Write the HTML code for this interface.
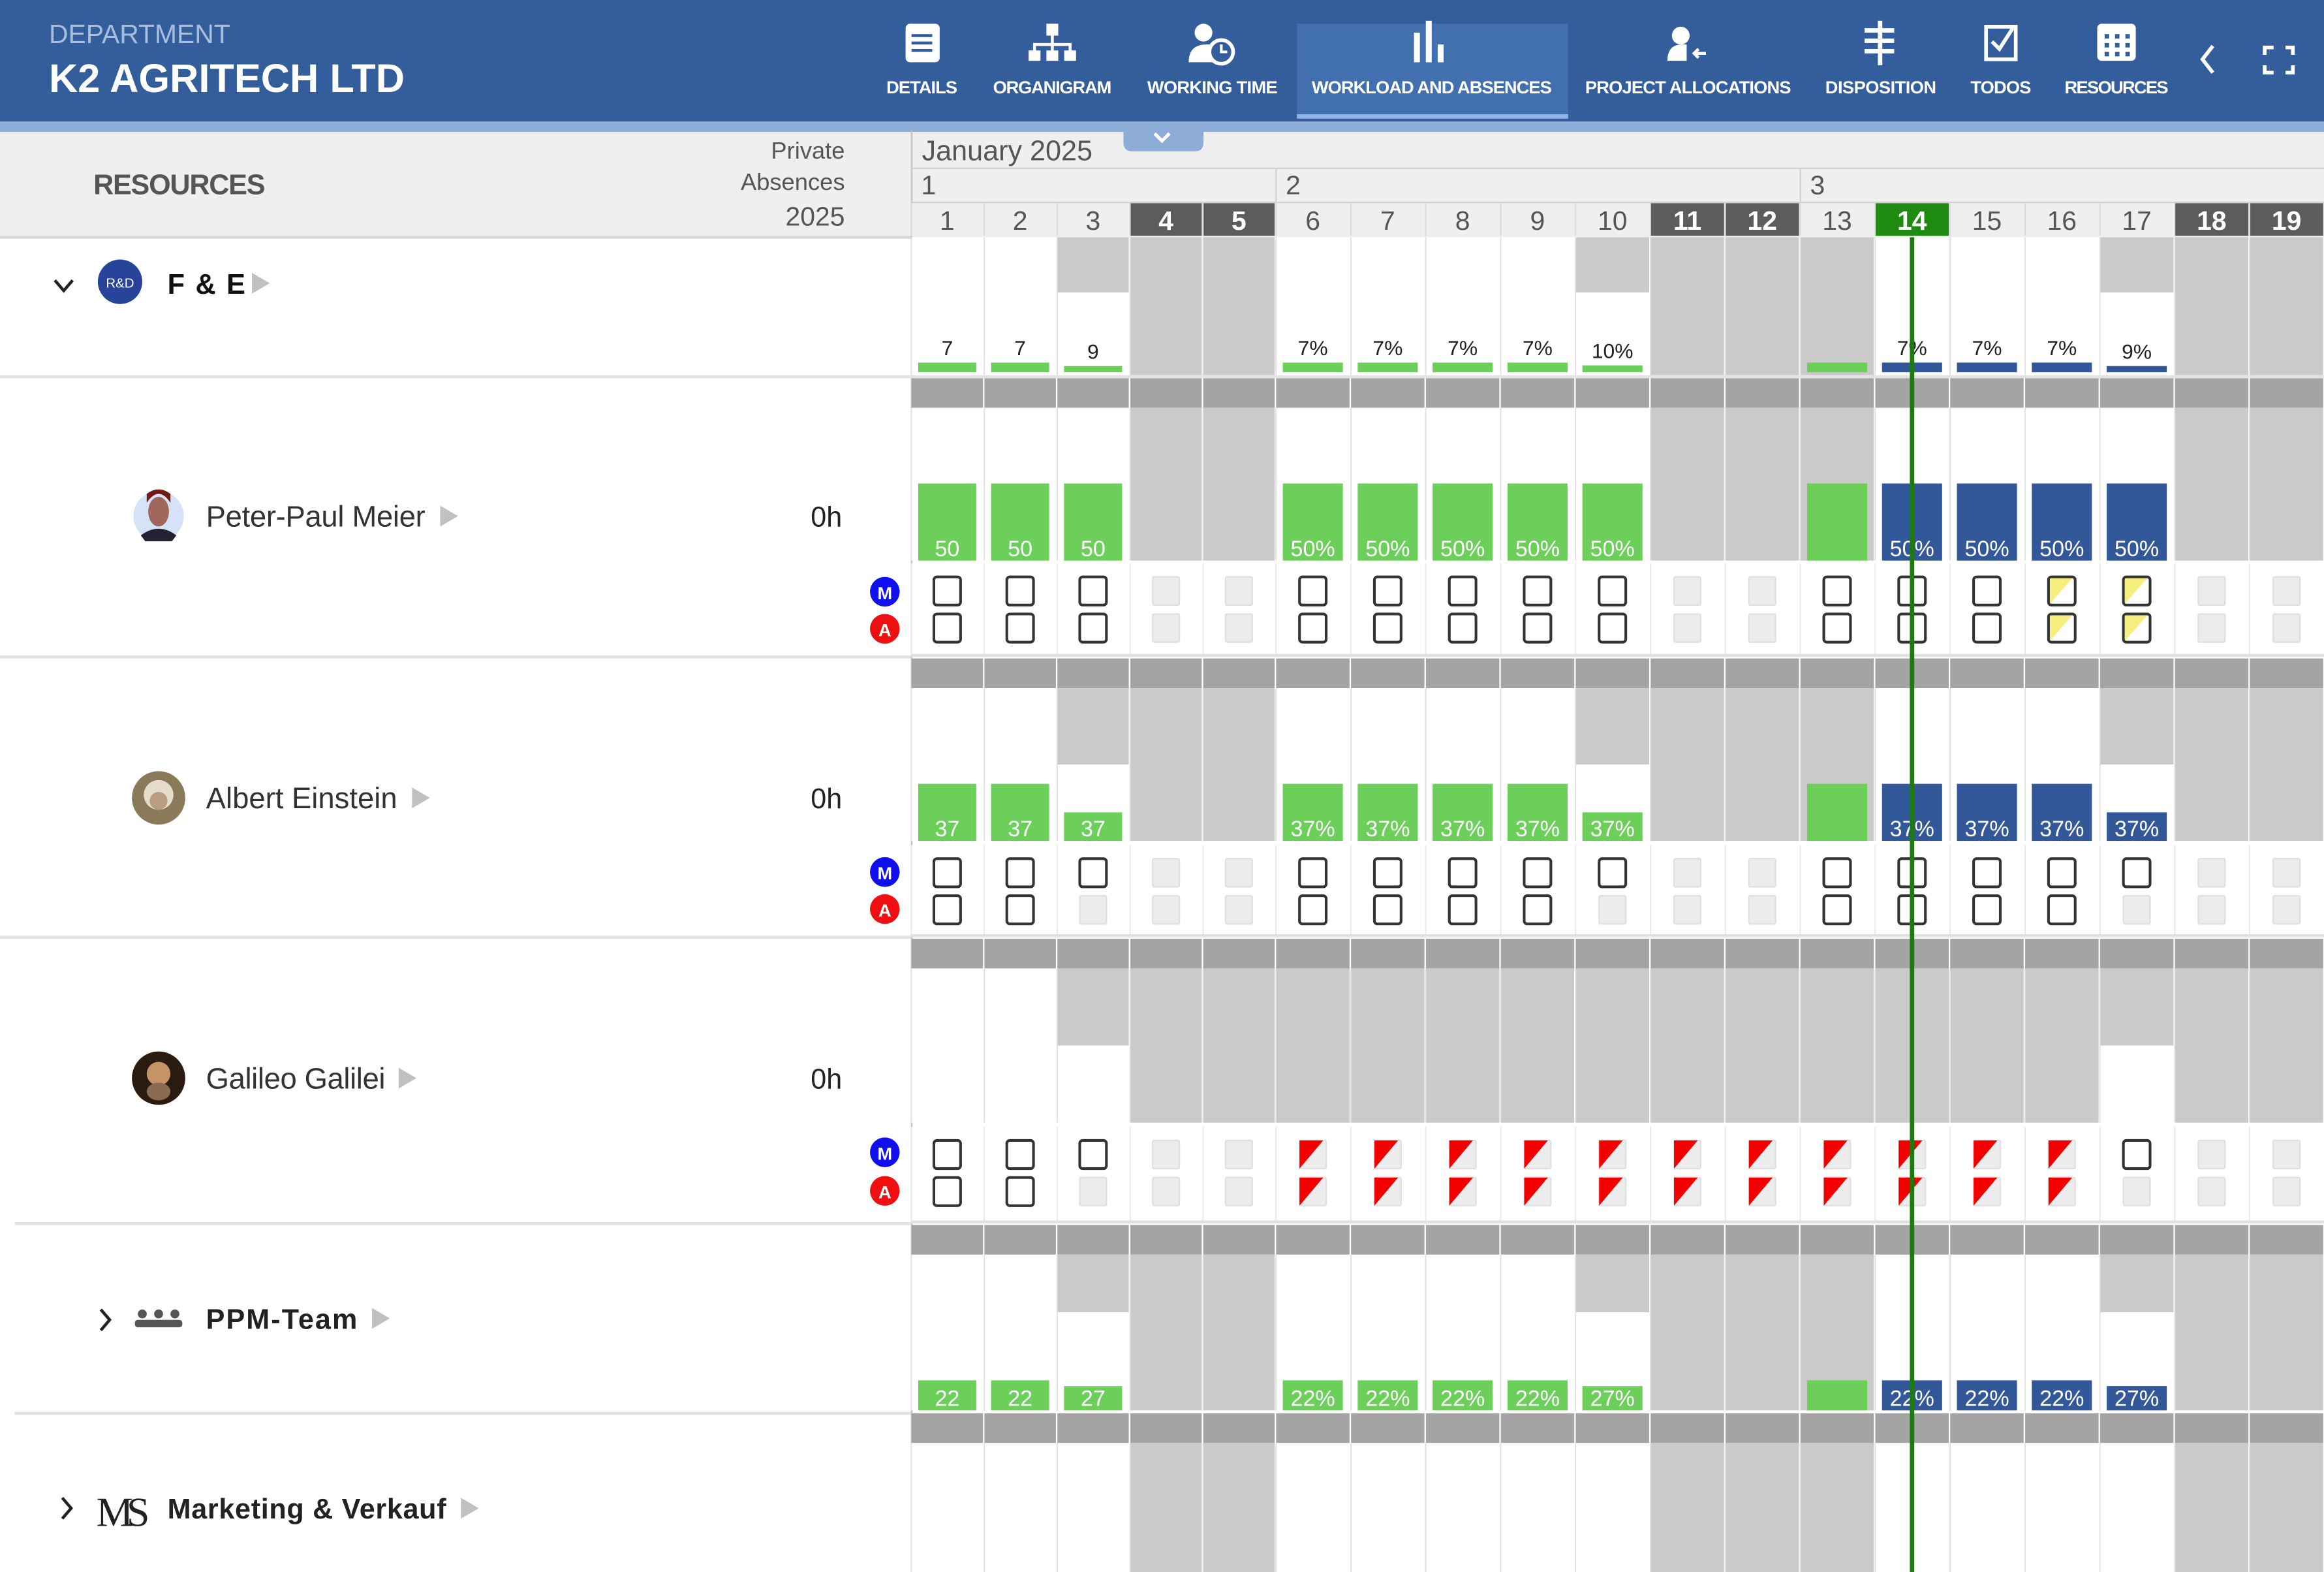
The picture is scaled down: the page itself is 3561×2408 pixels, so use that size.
<!DOCTYPE html>
<html><head><meta charset="utf-8">
<style>
html,body{margin:0;padding:0;background:#fff;overflow:hidden;}
svg{display:block;font-family:"Liberation Sans",sans-serif;}
</style></head>
<body>
<svg id="page" width="3561" height="2408" viewBox="0 0 1568 1060" preserveAspectRatio="none" xmlns="http://www.w3.org/2000/svg">
  <g>
    <rect x="0" y="0" width="1568" height="82" fill="#335d9b"/>
    <rect x="0" y="82" width="1568" height="7" fill="#8eacd8"/>
    <text x="33" y="29" font-size="18" fill="#a9bedd">DEPARTMENT</text>
    <text x="33" y="62" font-size="27" font-weight="bold" fill="#fff" textLength="240">K2 AGRITECH LTD</text>
    <rect x="875" y="16" width="183" height="64" fill="#426fae"/>
    <rect x="875" y="77" width="183" height="3" fill="#8fb3ea"/>
    <g fill="#fff" font-size="12" font-weight="bold" text-anchor="middle">
      <g><rect x="611" y="16" width="23" height="26" rx="3"/><rect x="615" y="23" width="14" height="2" fill="#335d9b"/><rect x="615" y="28" width="14" height="2" fill="#335d9b"/><rect x="615" y="33" width="14" height="2" fill="#335d9b"/><text x="622" y="63" textLength="48">DETAILS</text></g>
      <g><rect x="706" y="16" width="8" height="8"/><rect x="709" y="24" width="2" height="6"/><rect x="697" y="29" width="26" height="2"/><rect x="697" y="31" width="2" height="4"/><rect x="709" y="31" width="2" height="4"/><rect x="721" y="31" width="2" height="4"/><rect x="694" y="34" width="8" height="7"/><rect x="706" y="34" width="8" height="7"/><rect x="718" y="34" width="8" height="7"/><text x="710" y="63" textLength="80">ORGANIGRAM</text></g>
      <g><circle cx="812" cy="22" r="6"/><path d="M802 42 q0-12 12-12 h4 v12z"/><circle cx="824" cy="35" r="8" fill="#335d9b" stroke="#fff" stroke-width="2.5"/><path d="M824 30 v5 h4" stroke="#fff" stroke-width="1.8" fill="none"/><text x="818" y="63" textLength="88">WORKING TIME</text></g>
      <g><rect x="954" y="22" width="4" height="20"/><rect x="962" y="14" width="4" height="28"/><rect x="970" y="30" width="4" height="12"/><text x="966" y="63" textLength="162">WORKLOAD AND ABSENCES</text></g>
      <g><circle cx="1134" cy="24" r="6"/><path d="M1125 41 q0-11 10-11 h3 v11z"/><path d="M1143 36 h8 M1146 33 l-3 3 3 3" stroke="#fff" stroke-width="2" fill="none"/><text x="1139" y="63" textLength="139">PROJECT ALLOCATIONS</text></g>
      <g><rect x="1267" y="14" width="3" height="30"/><rect x="1258" y="19" width="20" height="3"/><rect x="1258" y="26" width="20" height="3"/><rect x="1258" y="33" width="20" height="3"/><text x="1269" y="63" textLength="75">DISPOSITION</text></g>
      <g><rect x="1340" y="18" width="20" height="22" fill="none" stroke="#fff" stroke-width="2.5"/><path d="M1344 28 l5 5 9-14" stroke="#fff" stroke-width="2.5" fill="none"/><text x="1350" y="63" textLength="41">TODOS</text></g>
      <g><rect x="1415" y="16" width="26" height="25" rx="3"/><g fill="#335d9b"><rect x="1420" y="23" width="3" height="3"/><rect x="1427" y="23" width="3" height="3"/><rect x="1434" y="23" width="3" height="3"/><rect x="1420" y="29" width="3" height="3"/><rect x="1427" y="29" width="3" height="3"/><rect x="1434" y="29" width="3" height="3"/><rect x="1420" y="35" width="3" height="3"/><rect x="1427" y="35" width="3" height="3"/><rect x="1434" y="35" width="3" height="3"/></g><text x="1428" y="63" textLength="70">RESOURCES</text></g>
    </g>
    <path d="M1493 31 l-7 9 7 9" stroke="#fff" stroke-width="2.5" fill="none"/>
    <path d="M1528 37 v-5 h6 M1542 32 h5 v5 M1547 44 v5 h-5 M1534 49 h-6 v-5" stroke="#fff" stroke-width="2.5" fill="none"/>
  </g>
  <g>
    <rect x="0" y="89" width="615" height="71" fill="#efefef"/>
    <rect x="0" y="159" width="615" height="2" fill="#d6d6d6"/>
    <text x="63" y="131" font-size="19" font-weight="bold" fill="#555" textLength="116">RESOURCES</text>
    <g font-size="16" fill="#555" text-anchor="end">
      <text x="570" y="107">Private</text><text x="570" y="128">Absences</text><text x="570" y="152" font-size="18">2025</text>
    </g>
  </g>
  <g>
    <g>
      <path d="M37 189 l6 7 6-7" stroke="#222" stroke-width="2" fill="none"/>
      <circle cx="81" cy="190" r="15" fill="#27439a"/><text x="81" y="194" font-size="9" fill="#fff" text-anchor="middle">R&amp;D</text>
      <text x="113" y="198" font-size="19" fill="#111" font-weight="bold" letter-spacing="1">F &amp; E</text>
      <path d="M170 184 l12 7 -12 7z" fill="#c0c0c0"/>
    </g>
    <rect x="0" y="253" width="615" height="2" fill="#e2e2e2"/>
    <g>
      <circle cx="107" cy="348" r="17" fill="#d6e2f8"/><ellipse cx="107" cy="345" rx="7" ry="10" fill="#a0685c"/><path d="M99 339 q8-12 16 0 v-6 q-8-6-16 0z" fill="#6e1c14"/><path d="M95 361 q12-9 24 0 l-3 4 h-18z" fill="#223"/>
      <text x="139" y="355" font-size="20" fill="#333" textLength="148">Peter-Paul Meier</text>
      <path d="M297 341 l12 7 -12 7z" fill="#c0c0c0"/>
      <text x="547" y="355" font-size="19" fill="#222">0h</text>
    </g>
    <rect x="0" y="442" width="615" height="2" fill="#e2e2e2"/>
    <g>
      <circle cx="107" cy="538" r="18" fill="#8a7a5a"/><circle cx="107" cy="536" r="10" fill="#e6dccb"/><circle cx="107" cy="540" r="6" fill="#b99c82"/>
      <text x="139" y="545" font-size="20" fill="#333" textLength="129">Albert Einstein</text>
      <path d="M278 531 l12 7 -12 7z" fill="#c0c0c0"/>
      <text x="547" y="545" font-size="19" fill="#222">0h</text>
    </g>
    <rect x="0" y="631" width="615" height="2" fill="#e2e2e2"/>
    <g>
      <circle cx="107" cy="727" r="18" fill="#2a1a10"/><circle cx="107" cy="724" r="8" fill="#c49366"/><ellipse cx="107" cy="736" rx="8" ry="6" fill="#8a6a50"/>
      <text x="139" y="734" font-size="20" fill="#333" textLength="121">Galileo Galilei</text>
      <path d="M269 720 l12 7 -12 7z" fill="#c0c0c0"/>
      <text x="547" y="734" font-size="19" fill="#222">0h</text>
    </g>
    <rect x="10" y="824" width="605" height="2" fill="#e2e2e2"/>
    <g>
      <path d="M68 883 l6 7 -6 7" stroke="#222" stroke-width="2" fill="none"/>
      <g fill="#555"><circle cx="96" cy="886" r="3"/><circle cx="107" cy="886" r="3"/><circle cx="118" cy="886" r="3"/><rect x="91" y="890" width="32" height="5" rx="2"/></g>
      <text x="139" y="896" font-size="19" font-weight="bold" fill="#222" textLength="102">PPM-Team</text>
      <path d="M251 882 l12 7 -12 7z" fill="#c0c0c0"/>
    </g>
    <rect x="10" y="952" width="605" height="2" fill="#e2e2e2"/>
    <g>
      <path d="M42 1010 l6 7 -6 7" stroke="#222" stroke-width="2" fill="none"/>
      <text x="65" y="1029" font-size="28" font-family="Liberation Serif, serif" fill="#222" textLength="36">MS</text>
      <text x="113" y="1024" font-size="19" font-weight="bold" fill="#222" textLength="188">Marketing &amp; Verkauf</text>
      <path d="M311 1010 l12 7 -12 7z" fill="#c0c0c0"/>
    </g>
    <g font-size="12" font-weight="bold" fill="#fff" text-anchor="middle">
      <circle cx="597" cy="399" r="10" fill="#1010ee"/><text x="597" y="404">M</text>
      <circle cx="597" cy="424" r="10" fill="#ee1010"/><text x="597" y="429">A</text>
      <circle cx="597" cy="588" r="10" fill="#1010ee"/><text x="597" y="593">M</text>
      <circle cx="597" cy="613" r="10" fill="#ee1010"/><text x="597" y="618">A</text>
      <circle cx="597" cy="777" r="10" fill="#1010ee"/><text x="597" y="782">M</text>
      <circle cx="597" cy="803" r="10" fill="#ee1010"/><text x="597" y="808">A</text>
    </g>
  </g>
  <g id="chart"></g>
</svg>
<script>
// ---- data ----
const days = [1,2,3,4,5,6,7,8,9,10,11,12,13,14,15,16,17,18,19];
const weekendDays = [4,5,11,12,18,19];
const holidayDays = [13];
const todayDay = 14;
const weekLabels = ['1','2','3'];
const weekStartDays = [1,6,13];
const monthLabel = 'January 2025';
const feValues = [7,7,9,null,null,7,7,7,7,10,null,null,7,7,7,7,9,null,null];
const peterValues = [50,50,50,null,null,50,50,50,50,50,null,null,50,50,50,50,50,null,null];
const albertValues = [37,37,37,null,null,37,37,37,37,37,null,null,37,37,37,37,37,null,null];
const galileoValues = [null,null,null,null,null,null,null,null,null,null,null,null,null,null,null,null,null,null,null];
const ppmValues = [22,22,27,null,null,22,22,22,22,27,null,null,22,22,22,22,27,null,null];
const feHalfDays = [3,10,17];
const peterHalfDays = [];
const albertHalfDays = [3,10,17];
const galileoHalfDays = [3,17];
const ppmHalfDays = [3,10,17];
const marketingHalfDays = [];
const galileoAbsentDays = [6,7,8,9,10,11,12,13,14,15,16];
const peterM = 'cccddcccccddcccyydd';
const peterA = 'cccddcccccddcccyydd';
const albertM = 'cccddcccccddcccccdd';
const albertA = 'ccdddccccdddccccddd';
const galileoM = 'cccddrrrrrrrrrrrcdd';
const galileoA = 'ccdddrrrrrrrrrrrddd';

// ---- layout helpers ----
const NS = 'http://www.w3.org/2000/svg';
const chart = document.getElementById('chart');
const X0 = 614.5, X1 = 1568, X6 = 860.5;
const CW1 = (X6-X0)/5, CW2 = (X1-X6)/14;
function colX(d){ return d<=6 ? X0+(d-1)*CW1 : X6+(d-6)*CW2; }
function colW(d){ return d<6 ? CW1 : CW2; }
function mk(tag, attrs, parent){ const e=document.createElementNS(NS,tag); for(const k in attrs) e.setAttribute(k,attrs[k]); (parent||chart).appendChild(e); return e; }
function barH(v, scale, halfF){ return v/100*scale*halfF; }

let e;
e = mk('rect',{x:X0,y:89,width:X1-X0,height:71,fill:'#efefef'});


e = mk('text',{x:622,y:108,'font-size':19,fill:'#555'}); e.textContent = monthLabel;


e = mk('path',{d:'M758 86 h54 v10 q0 6 -6 6 h-42 q-6 0 -6 -6z',fill:'#8eacd8'});


mk('path',{d:'M779 90 l5 5 5-5',stroke:'#fff','stroke-width':2.2,fill:'none'});
mk('rect',{x:X0,y:113,width:X1-X0,height:1,fill:'#d0d0d0'});
mk('rect',{x:X0,y:88,width:1.2,height:972,fill:'#c8c8c8'});
weekLabels.forEach((w,i)=>{
  const x = colX(weekStartDays[i]);
  e = mk('text',{x:x+7,y:131,'font-size':18,fill:'#555'}); e.textContent = w;
  
  
  if(i>0){ mk('rect',{x:x,y:113,width:1,height:23,fill:'#d0d0d0'}); }
});

const rows = [
  {key:'fe', top:160, bottom:253, barBottom:251, scale:93, values:feValues, half:feHalfDays, halfFrac:0.4, halfBar:0.5, thin:true},
  {key:'peter', band:255, top:275, bottom:378, barBottom:378, scale:104, values:peterValues, half:peterHalfDays, halfFrac:0.5, halfBar:0.5, checks:[peterM,peterA], chkTop:380, chkBottom:441},
  {key:'albert', band:444, top:464, bottom:567, barBottom:567, scale:104, values:albertValues, half:albertHalfDays, halfFrac:0.5, halfBar:0.5, checks:[albertM,albertA], chkTop:570, chkBottom:630},
  {key:'galileo', band:633, top:653, bottom:757, barBottom:757, scale:104, values:galileoValues, half:galileoHalfDays, halfFrac:0.5, halfBar:0.5, absent:galileoAbsentDays, checks:[galileoM,galileoA], chkTop:760, chkBottom:823},
  {key:'ppm', band:826, top:846, bottom:951, barBottom:951, scale:92, values:ppmValues, half:ppmHalfDays, halfFrac:0.37, halfBar:0.66},
  {key:'marketing', band:953, top:973, bottom:1060, barBottom:1060, scale:90, values:days.map(()=>null), half:marketingHalfDays, halfFrac:0.4, halfBar:0.5}
];

days.forEach((d,i)=>{
  const x = colX(d), w = colW(d);
  const isWe = weekendDays.includes(d), isHol = holidayDays.includes(d), isToday = d===todayDay;
  e = mk('rect',{x:x+0.5,y:137,width:w-1,height:22,fill:isToday?'#1f8a10':(isWe?'#5c5c5c':'#efefef')});
  
  
  mk('rect',{x:x,y:136,width:w,height:1,fill:'#d0d0d0'});
  mk('rect',{x:x,y:137,width:0.8,height:22,fill:'#d8d8d8'});
  e = mk('text',{x:x+w/2,y:155,'font-size':18,'text-anchor':'middle',fill:(isWe||isToday)?'#fff':'#555','font-weight':(isWe||isToday)?'bold':'normal'}); e.textContent = String(d);
  
  

  rows.forEach(r=>{
    if(r.band!==undefined){
      e = mk('rect',{x:x+0.5,y:r.band,width:w-1,height:20,fill:'#a4a4a4'});
      
      
    }
    const absent = r.absent && r.absent.includes(d);
    const half = r.half.includes(d);
    const full = isWe || isHol || absent;
    e = mk('rect',{x:x+0.5,y:r.top,width:w-1,height:r.bottom-r.top,fill:full?'#cacaca':'#fff'});
    
    
    if(!full && half){
      e = mk('rect',{x:x+0.5,y:r.top,width:w-1,height:(r.bottom-r.top)*r.halfFrac,fill:'#cacaca'});
      
      
    }
    mk('rect',{x:x,y:r.top,width:0.8,height:r.bottom-r.top,fill:'#e0e0e0'});
    const v = r.values[i];
    if(v!==null && v!==undefined){
      const h = Math.max(barH(v,r.scale,(half && !full)?r.halfBar:1), r.thin?3:0);
      const col = d>=todayDay ? '#33589a' : '#6ccf5a';
      e = mk('rect',{x:x+5,y:r.barBottom-h,width:w-10,height:h,fill:col});
      
      
      if(!isHol){
        const lbl = d<6 ? String(v) : v+'%';
        if(r.thin){
          e = mk('text',{x:x+w/2,y:r.barBottom-h-5,'font-size':14,'text-anchor':'middle',fill:'#222'}); e.textContent = lbl;
        } else {
          e = mk('text',{x:x+w/2,y:r.barBottom-3,'font-size':15,'text-anchor':'middle',fill:'#fff'}); e.textContent = lbl;
        }
        
        
      }
    }
    if(r.checks){
      mk('rect',{x:x+0.5,y:r.chkTop,width:w-1,height:r.chkBottom-r.chkTop,fill:'#fff'});
      mk('rect',{x:x,y:r.chkTop,width:0.8,height:r.chkBottom-r.chkTop,fill:'#e8e8e8'});
      r.checks.forEach((s,k)=>{
        const st = s[i];
        const cx = x+w/2, cy = r.chkTop + 19 + k*25;
        const bx = cx-9, by = cy-10;
        if(st==='c' || st==='y'){
          e = mk('rect',{x:bx,y:by,width:18,height:19,rx:2,fill:'#fff',stroke:'#333','stroke-width':1.8});
          
          
          if(st==='y'){ mk('path',{d:`M${bx+1} ${by+1} h15 l-15 17z`,fill:'#f6ee7c'}); }
        } else {
          e = mk('rect',{x:bx,y:by,width:18,height:19,rx:1,fill:'#ececec',stroke:'#e0e0e0','stroke-width':1});
          
          
          if(st==='r'){
            e = mk('path',{d:`M${bx} ${by} h16 l-16 19z`,fill:'#f20000'});
            
            
          }
        }
      });
    }
  });
});
rows.forEach(r=>{ if(r.checks) mk('rect',{x:X0,y:r.chkBottom,width:X1-X0,height:2,fill:'#e0e0e0'}); });
mk('rect',{x:X0,y:253,width:X1-X0,height:2,fill:'#e4e4e4'});
e = mk('rect',{x:colX(todayDay)+colW(todayDay)/2-1.5,y:160,width:3,height:900,fill:'#1d7a0f'});


</script>
</body></html>
